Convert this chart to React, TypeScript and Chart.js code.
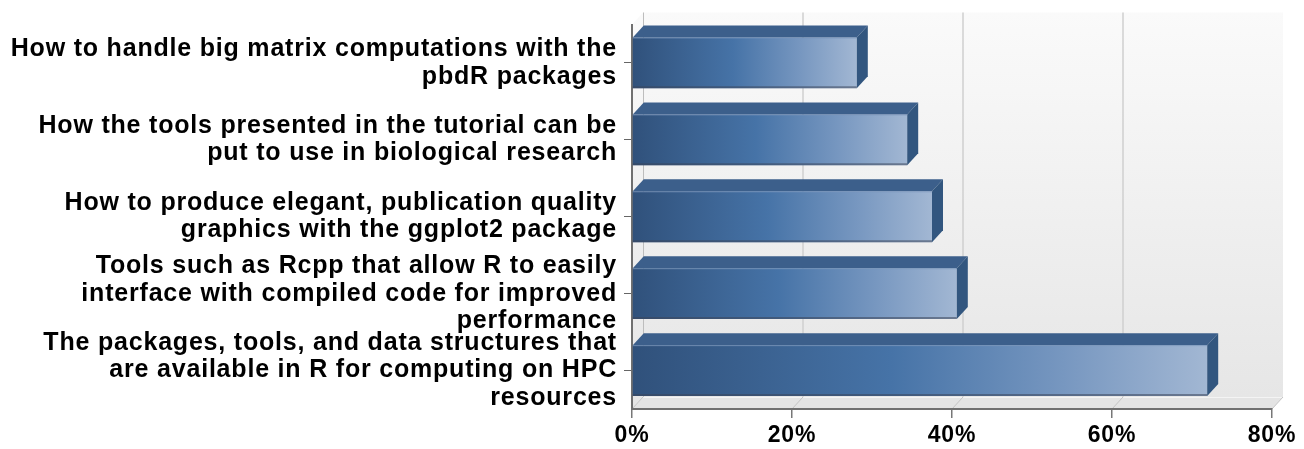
import React, { useEffect, useRef } from "react";
import { Chart, registerables } from "chart.js";

Chart.register(...registerables);

const categories: string[][] = [
  ["How to handle big matrix computations with the", "pbdR packages"],
  ["How the tools presented in the tutorial can be", "put to use in biological research"],
  ["How to produce elegant, publication quality", "graphics with the ggplot2 package"],
  ["Tools such as Rcpp that allow R to easily", "interface with compiled code for improved", "performance"],
  ["The packages, tools, and data structures that", "are available in R for computing on HPC", "resources"],
];
const values: number[] = [28.1, 34.4, 37.5, 40.6, 71.9];
const xMin = 0;
const xMax = 80;
const xStep = 20;

const DX = 11;
const DY = 12;
const SPACING = "0.8px";

const threeD = {
  id: "threeD",
  beforeLayout(chart: any) {
    try {
      chart.ctx.letterSpacing = SPACING;
    } catch (e) {}
  },
  beforeDraw(chart: any) {
    const { ctx, chartArea } = chart;
    if (!chartArea) return;
    ctx.letterSpacing = SPACING;
    const xs = chart.scales.x;
    const { left, right, top, bottom } = chartArea;
    ctx.save();
    const g = ctx.createLinearGradient(0, top - DY, 0, bottom - DY);
    g.addColorStop(0, "#fafafa");
    g.addColorStop(1, "#e6e6e6");
    ctx.fillStyle = g;
    ctx.fillRect(left + DX, top - DY, right - left, bottom - top);
    ctx.beginPath();
    ctx.moveTo(left, top);
    ctx.lineTo(left + DX, top - DY);
    ctx.lineTo(left + DX, bottom - DY);
    ctx.lineTo(left, bottom);
    ctx.closePath();
    ctx.fillStyle = g;
    ctx.fill();
    ctx.beginPath();
    ctx.moveTo(left, bottom);
    ctx.lineTo(left + DX, bottom - DY);
    ctx.lineTo(right + DX, bottom - DY);
    ctx.lineTo(right, bottom);
    ctx.closePath();
    ctx.fillStyle = "#e4e4e4";
    ctx.fill();
    ctx.strokeStyle = "#f4f4f4";
    ctx.lineWidth = 1;
    ctx.beginPath();
    ctx.moveTo(left + DX, bottom - DY + 0.5);
    ctx.lineTo(right + DX, bottom - DY + 0.5);
    ctx.stroke();
    for (let v = xMin; v <= xMax; v += xStep) {
      const px = xs.getPixelForValue(v);
      if (v > xMin && v < xMax) {
        ctx.strokeStyle = "#cfcfcf";
        ctx.lineWidth = 1.5;
        ctx.beginPath();
        ctx.moveTo(px + DX, top - DY);
        ctx.lineTo(px + DX, bottom - DY);
        ctx.stroke();
      }
      ctx.strokeStyle = "#c4c4c4";
      ctx.lineWidth = 1;
      ctx.beginPath();
      ctx.moveTo(px, bottom);
      ctx.lineTo(px + DX, bottom - DY);
      ctx.stroke();
    }
    ctx.strokeStyle = "#bdbdbd";
    ctx.lineWidth = 1;
    ctx.beginPath();
    ctx.moveTo(left + DX + 0.5, top - DY);
    ctx.lineTo(left + DX + 0.5, bottom - DY);
    ctx.stroke();
    ctx.restore();
  },
  afterDatasetsDraw(chart: any) {
    const { ctx } = chart;
    const meta = chart.getDatasetMeta(0);
    ctx.save();
    meta.data.forEach((el: any) => {
      const { x, y, base, height } = el.getProps(["x", "y", "base", "height"], true);
      const t = y - height / 2;
      const b = y + height / 2;
      ctx.fillStyle = "#3c5f8b";
      ctx.beginPath();
      ctx.moveTo(base, t);
      ctx.lineTo(base + DX, t - DY);
      ctx.lineTo(x + DX, t - DY);
      ctx.lineTo(x, t);
      ctx.closePath();
      ctx.fill();
      ctx.fillStyle = "#32567f";
      ctx.beginPath();
      ctx.moveTo(x, t);
      ctx.lineTo(x + DX, t - DY);
      ctx.lineTo(x + DX, b - DY);
      ctx.lineTo(x, b);
      ctx.closePath();
      ctx.fill();
      ctx.strokeStyle = "rgba(120,150,190,0.6)";
      ctx.lineWidth = 1;
      ctx.beginPath();
      ctx.moveTo(base, t + 0.5);
      ctx.lineTo(x, t + 0.5);
      ctx.stroke();
      ctx.strokeStyle = "rgba(60,70,90,0.55)";
      ctx.lineWidth = 2;
      ctx.beginPath();
      ctx.moveTo(base, b - 1);
      ctx.lineTo(x, b - 1);
      ctx.stroke();
    });
    ctx.restore();
  },
};

export default function App() {
  const ref = useRef<HTMLCanvasElement | null>(null);
  useEffect(() => {
    if (!ref.current) return;
    const chart = new Chart(ref.current, {
      type: "bar",
      data: {
        labels: categories,
        datasets: [
          {
            data: values,
            backgroundColor: (c: any) => {
              const ch = c.chart;
              const xs = ch.scales?.x;
              if (!ch.chartArea || !xs || typeof c.raw !== "number") return "#4572a6";
              const x0 = xs.getPixelForValue(0);
              const x1 = xs.getPixelForValue(c.raw);
              const g = ch.ctx.createLinearGradient(x0, 0, x1, 0);
              g.addColorStop(0, "#30517b");
              g.addColorStop(0.45, "#4673a7");
              g.addColorStop(0.75, "#7797c0");
              g.addColorStop(1, "#a2b7d3");
              return g;
            },
            borderWidth: 0,
            barPercentage: 0.66,
            categoryPercentage: 1,
          },
        ],
      },
      options: {
        indexAxis: "y",
        responsive: false,
        animation: false,
        layout: { padding: { top: 24.5, right: 32, left: 0, bottom: 0 } },
        plugins: { legend: { display: false }, tooltip: { enabled: false } },
        scales: {
          x: {
            min: xMin,
            max: xMax,
            ticks: {
              stepSize: xStep,
              callback: (v: any) => v + "%",
              color: "#000",
              padding: 4,
              maxRotation: 0,
              font: { family: "Liberation Sans", weight: "bold", size: 23 },
            },
            grid: { drawOnChartArea: false, drawTicks: true, tickLength: 9, color: "#777", lineWidth: 1.5 },
            border: { display: true, color: "#707070", width: 2 },
            afterFit: (s: any) => {
              s.height = 40;
              s.paddingLeft = 0;
              s.paddingRight = 0;
            },
          },
          y: {
            ticks: {
              color: "#000",
              padding: 7,
              autoSkip: false,
              font: { family: "Liberation Sans", weight: "bold", size: 25, lineHeight: 1.1 },
            },
            grid: { drawOnChartArea: false, drawTicks: true, tickLength: 8, color: "#666", offset: false },
            border: { display: true, color: "#707070", width: 2 },
            afterFit: (s: any) => {
              s.width = 632;
              s.paddingTop = 0;
              s.paddingBottom = 0;
            },
          },
        },
      },
      plugins: [threeD],
    });
    return () => chart.destroy();
  }, []);
  return (
    <div style={{ position: "absolute", left: 0, top: 0, width: 1304, height: 449, background: "#fff" }}>
      <canvas ref={ref} width={1304} height={449} />
    </div>
  );
}
